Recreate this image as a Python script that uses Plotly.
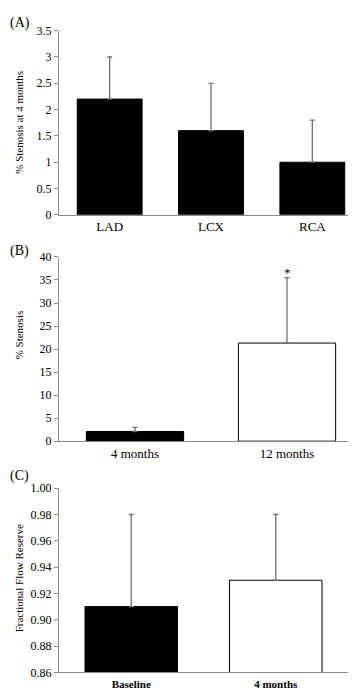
import plotly.graph_objects as go

W, H = 356, 688

# Panel A
a_cats = ["LAD", "LCX", "RCA"]
a_vals = [2.2, 1.6, 1.0]
a_err = [0.8, 0.9, 0.8]

# Panel B
b_cats = ["4 months", "12 months"]
b_vals = [2.1, 21.3]
b_err = [0.9, 14.2]
b_colors = ["black", "white"]

# Panel C
c_cats = ["Baseline", "4 months"]
c_vals = [0.91, 0.93]
c_err = [0.07, 0.05]
c_colors = ["black", "white"]

FONT = "Liberation Serif, Times New Roman, serif"
AXC = "#8a8a8a"
ERRC = "#707070"

def py(pix):
    return 1 - pix / H

def px(pix):
    return pix / W

fig = go.Figure()

def add_bar(cats, vals, err, colors, xa, ya):
    fig.add_trace(go.Bar(
        x=cats, y=vals, xaxis=xa, yaxis=ya,
        marker=dict(color=colors, line=dict(color="black", width=1)),
        width=0.64,
        error_y=dict(type="data", symmetric=False, array=err,
                     arrayminus=[0] * len(err), color=ERRC,
                     thickness=1.3, width=2.5),
        showlegend=False, hoverinfo="x+y",
    ))

add_bar(a_cats, a_vals, a_err, ["black"] * 3, "x", "y")
add_bar(b_cats, b_vals, b_err, b_colors, "x2", "y2")
add_bar(c_cats, c_vals, c_err, c_colors, "x3", "y3")

ytickfont = dict(family=FONT, size=12, color="black")

def xaxis(dom, anchor, size=13, standoff=None, bold=False):
    d = dict(domain=dom, anchor=anchor, showline=True, linecolor=AXC,
             linewidth=1, ticks="", showgrid=False, zeroline=False, fixedrange=True,
             tickfont=dict(family=FONT, size=size, color="black",
                           weight="bold" if bold else "normal"))
    if standoff is not None:
        d["ticklabelstandoff"] = standoff
    return d

def yaxis(dom, anchor, rng, dtick, fmt=None):
    d = dict(domain=dom, anchor=anchor, range=rng, dtick=dtick, tick0=rng[0],
             showline=True, linecolor=AXC, linewidth=1, ticks="outside",
             ticklen=4, tickcolor=AXC, tickfont=ytickfont, showgrid=False,
             zeroline=False, fixedrange=True)
    if fmt:
        d["tickformat"] = fmt
    return d

fig.update_layout(
    width=W, height=H,
    margin=dict(l=0, r=0, t=0, b=0),
    paper_bgcolor="white", plot_bgcolor="white",
    xaxis=xaxis([px(51), px(355)], "y"),
    yaxis=yaxis([py(204), py(16)], "x", [0, 3.5], 0.5),
    xaxis2=xaxis([px(51), px(355)], "y2"),
    yaxis2=yaxis([py(435), py(247)], "x2", [0, 40], 5),
    xaxis3=xaxis([px(51), px(340)], "y3", size=11, standoff=1, bold=True),
    yaxis3=yaxis([py(671), py(483)], "x3", [0.86, 1.0], 0.02, ".2f"),
    font=dict(family=FONT, color="black"),
)

ann = []
titles = [("% Stenosis at 4 months", 110), ("% Stenosis", 327), ("Fractional Flow Reserve", 575)]
for t, yy in titles:
    ann.append(dict(text=t, x=px(11), y=py(yy), xref="paper", yref="paper",
                    textangle=-90, showarrow=False, xanchor="center", yanchor="middle",
                    font=dict(family=FONT, size=11, color="black")))
for t, yy in [("(A)", 8), ("(B)", 241), ("(C)", 471)]:
    ann.append(dict(text=t, x=0, y=py(yy), xref="paper", yref="paper",
                    showarrow=False, xanchor="left", yanchor="middle",
                    font=dict(family=FONT, size=14, color="black")))
# significance marker above 12 months bar
ann.append(dict(text="*", x=b_cats[1], y=b_vals[1] + b_err[1], xref="x2", yref="y2",
                showarrow=False, yanchor="bottom", yshift=-4,
                font=dict(family=FONT, size=13, color="black")))
fig.update_layout(annotations=ann)

fig.write_html("out.html")
